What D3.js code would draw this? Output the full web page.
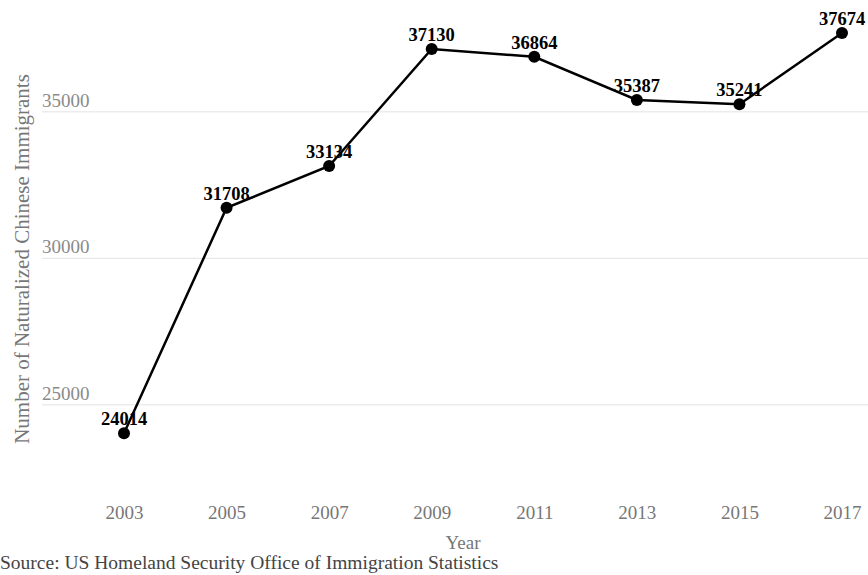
<!DOCTYPE html>
<html lang="en">
<head>
    <meta charset="UTF-8">
    <title>Naturalized Chinese Immigrants</title>
    <style>
        body { margin: 0; background: #fff; }
        svg { display: block; font-family: 'Liberation Serif', 'Times New Roman', serif; }
        .grid line { stroke: #e3e3e3; stroke-width: 1; }
        .grid path { stroke-width: 0; }
        .grid text { fill: #8a8a8a; font-size: 19px; font-family: 'Liberation Serif', serif; }
        .xaxis path, .xaxis line { stroke-width: 0; }
        .xaxis text { fill: #777; font-size: 19px; font-family: 'Liberation Serif', serif; }
    </style>
    <script src="https://d3js.org/d3.v7.min.js"></script>
</head>
<body>
    <svg id="chart" width="868" height="575"></svg>
    <script>
        // data
        const years = [2003, 2005, 2007, 2009, 2011, 2013, 2015, 2017];
        const naturalized = [24014, 31708, 33134, 37130, 36864, 35387, 35241, 37674];
        const yTicks = [25000, 30000, 35000];

        const data = years.map((y, i) => ({ year: y, value: naturalized[i] }));

        const svg = d3.select("#chart");
        const width = 868;

        const x = d3.scaleLinear().domain([2003, 2017]).range([124, 842]);
        const y = d3.scaleLinear().domain([22500, 38500]).range([477.6, 8.8]);

        // gridlines with labels sitting above them
        const grid = svg.append("g")
            .attr("class", "grid")
            .attr("transform", "translate(42,0)")
            .call(d3.axisRight(y).tickValues(yTicks).tickSize(width - 42).tickFormat(d3.format("d")));
        grid.selectAll("text")
            .attr("x", 0)
            .attr("dy", -5)
            .attr("text-anchor", "start");

        // x axis labels
        svg.append("g")
            .attr("class", "xaxis")
            .attr("transform", "translate(0,512)")
            .call(d3.axisBottom(x).tickValues(years).tickFormat(d3.format("d")).tickSize(0))
            .selectAll("text")
            .attr("dy", "0.35em")
            .attr("y", 0);

        // line
        const line = d3.line().x(d => x(d.year)).y(d => y(d.value));
        svg.append("path")
            .datum(data)
            .attr("d", line)
            .attr("fill", "none")
            .attr("stroke", "#000")
            .attr("stroke-width", 2.5);

        svg.selectAll("circle")
            .data(data)
            .enter()
            .append("circle")
            .attr("cx", d => x(d.year))
            .attr("cy", d => y(d.value))
            .attr("r", 6)
            .attr("fill", "#000");

        svg.selectAll(".val")
            .data(data)
            .enter()
            .append("text")
            .attr("class", "val")
            .attr("x", d => x(d.year))
            .attr("y", d => y(d.value) - 8)
            .attr("text-anchor", "middle")
            .style("font-size", "18.5px")
            .style("font-weight", "bold")
            .style("fill", "#000")
            .text(d => d.value);

        // axis titles
        svg.append("text")
            .attr("transform", "rotate(-90)")
            .attr("x", -259)
            .attr("y", 29)
            .attr("text-anchor", "middle")
            .style("font-size", "21px")
            .style("fill", "#777")
            .text("Number of Naturalized Chinese Immigrants");

        svg.append("text")
            .attr("x", 463)
            .attr("y", 549)
            .attr("text-anchor", "middle")
            .style("font-size", "19px")
            .style("fill", "#777")
            .text("Year");

        svg.append("text")
            .attr("x", 0)
            .attr("y", 569)
            .style("font-size", "19.5px")
            .style("fill", "#444")
            .text("Source: US Homeland Security Office of Immigration Statistics");
    </script>
</body>
</html>
